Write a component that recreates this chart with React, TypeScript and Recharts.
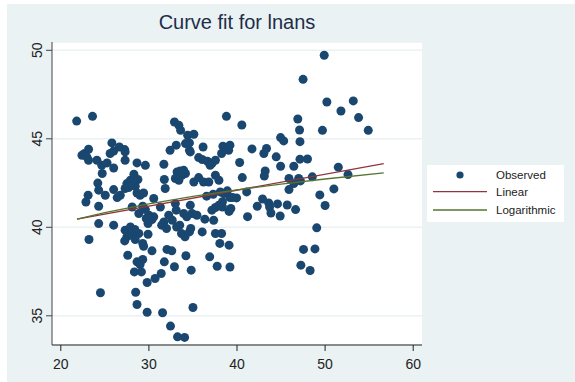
import { ScatterChart, Scatter, XAxis, YAxis, CartesianGrid, Legend } from "recharts"

const title = "Curve fit for lnans"

const seriesNames = ["Observed", "Linear", "Logarithmic"]

const xTicks = [20, 30, 40, 50, 60]
const yTicks = [35, 40, 45, 50]

// observed points (age, lnans)
const observed: [number, number][] = [
  [21.8, 46.0], [23.6, 46.27], [25.8, 44.77], [23.15, 44.41], [22.7, 44.17], [22.4, 44.07],
  [22.95, 43.98], [23.15, 43.79], [24.1, 43.79], [24.65, 43.5], [25.25, 43.64], [26.0, 43.35],
  [25.6, 44.17], [26.0, 44.31], [26.65, 44.54], [24.7, 43.04], [24.2, 42.5], [24.3, 42.1],
  [25.05, 41.81], [23.1, 41.81], [22.85, 41.43], [24.3, 41.19], [26.0, 42.13], [26.4, 41.68],
  [26.75, 41.81], [24.3, 40.21], [26.0, 40.12], [23.2, 39.31], [24.5, 36.3],
  [27.25, 44.39], [27.3, 44.26], [27.3, 43.79], [28.65, 43.64], [29.6, 43.5], [27.3, 42.19],
  [27.5, 42.47], [27.9, 42.66], [28.3, 43.0], [28.75, 42.7], [28.45, 42.32], [28.65, 41.94],
  [29.0, 41.81], [29.4, 41.94], [27.7, 42.25], [28.1, 41.15], [28.85, 40.78], [29.3, 41.19],
  [29.6, 41.0], [30.0, 40.68], [29.7, 40.5], [30.35, 40.44], [29.9, 40.21], [30.55, 41.63],
  [27.3, 39.84], [27.9, 40.02], [28.4, 39.88], [28.85, 39.65], [28.1, 39.55], [27.5, 39.46],
  [27.25, 39.23], [28.45, 39.31], [27.75, 39.74], [29.9, 39.61], [29.3, 39.09], [29.4, 38.93],
  [30.35, 38.67], [27.6, 38.42], [28.65, 38.05], [29.3, 38.18], [29.0, 37.9], [28.35, 37.48],
  [29.15, 37.48], [29.8, 36.88], [30.7, 37.11], [28.5, 36.33], [28.65, 35.64], [29.8, 35.2],
  [31.7, 43.56], [32.9, 45.95], [33.4, 45.76], [33.6, 45.48], [34.4, 45.2], [35.1, 45.26],
  [34.15, 44.73], [34.6, 44.77], [34.6, 44.35], [34.7, 44.26], [33.1, 44.64], [32.4, 44.35],
  [33.2, 43.13], [33.55, 43.18], [33.95, 43.22], [33.0, 42.76], [33.4, 42.66], [33.75, 42.94],
  [34.15, 43.04], [33.3, 42.94], [31.75, 42.7], [31.85, 42.19], [35.1, 42.56], [31.3, 41.15],
  [33.0, 41.34], [33.1, 40.97], [33.95, 40.78], [34.7, 41.25], [34.9, 40.78], [34.3, 40.59],
  [30.55, 40.59], [31.7, 40.3], [32.65, 40.4], [32.25, 40.68], [31.45, 40.12], [32.0, 39.93],
  [33.15, 40.02], [33.5, 40.12], [33.7, 39.65], [34.1, 39.46], [34.6, 39.74], [34.75, 39.93],
  [32.05, 38.75], [32.6, 38.67], [34.2, 38.39], [31.75, 38.05], [32.9, 37.77], [34.8, 37.58],
  [31.4, 37.39], [35.0, 35.47], [31.55, 35.17], [32.45, 34.42], [33.25, 33.81], [34.05, 33.78],
  [38.8, 46.27], [40.55, 45.78], [36.15, 44.54], [38.4, 44.58], [39.2, 44.64], [39.05, 44.35],
  [38.25, 44.17], [35.65, 43.94], [36.05, 43.83], [36.65, 43.73], [37.15, 43.6], [37.55, 43.79],
  [36.95, 43.5], [40.3, 43.66], [35.65, 42.81], [36.2, 42.56], [36.8, 42.56], [37.55, 42.94],
  [37.95, 42.66], [40.6, 42.81], [36.55, 41.76], [37.3, 41.87], [38.5, 41.91], [39.2, 41.68],
  [39.95, 41.66], [35.45, 40.68], [36.35, 40.46], [37.35, 40.4], [37.55, 41.12], [37.95, 41.25],
  [38.35, 41.15], [39.3, 41.06], [39.5, 41.68], [37.15, 40.97], [39.1, 40.9], [38.35, 41.45],
  [38.1, 42.0], [36.05, 39.74], [37.55, 39.65], [38.25, 39.65], [38.05, 39.09], [39.1, 38.99],
  [36.9, 38.33], [37.75, 37.8], [39.2, 37.76], [38.9, 42.06],
  [41.7, 44.43], [43.05, 44.17], [43.35, 44.45], [44.45, 43.98], [44.95, 45.07], [45.3, 44.88],
  [46.9, 46.12], [47.1, 45.5], [47.15, 44.84], [44.95, 43.45], [46.45, 43.45], [47.15, 43.85],
  [48.0, 43.86], [43.2, 43.18], [43.1, 42.9], [45.9, 42.76], [46.45, 42.47], [47.0, 42.76],
  [47.2, 42.62], [48.55, 42.85], [41.1, 42.0], [45.9, 42.13], [42.9, 41.6], [42.3, 41.19],
  [43.6, 41.38], [43.7, 41.15], [43.85, 40.81], [44.6, 41.32], [44.9, 40.64], [45.7, 41.26],
  [46.65, 41.0], [41.2, 40.6], [47.55, 38.75], [48.85, 38.78], [47.25, 37.86], [48.3, 37.56],
  [49.05, 39.97],
  [49.9, 49.72], [47.5, 48.36], [50.2, 47.08], [53.2, 47.14], [51.8, 46.57], [53.8, 46.2],
  [54.9, 45.48], [49.7, 45.48], [51.5, 43.4], [52.6, 42.98], [51.0, 42.17], [49.4, 41.83],
  [50.0, 41.23],
]

// fitted lines
const linearX = [21.84, 56.66]
const linearY = [40.46, 43.6]
const logX = [21.84, 25, 30, 35, 40, 45, 50, 56.66]
const logY = [40.46, 40.83, 41.33, 41.75, 42.12, 42.44, 42.73, 43.07]

const observedData = observed.map(([x, y]) => ({ x, y }))
const linearData = linearX.map((x, i) => ({ x, y: linearY[i] }))
const logData = logX.map((x, i) => ({ x, y: logY[i] }))

const navy = "#1a476f"
const maroon = "#90353b"
const green = "#55752f"
const bg = "#eaf2f3"
const font = "'Liberation Sans', Arial, sans-serif"

const YTick = (props: any) => {
  const { x, y, payload } = props
  const tx = x - 4
  return (
    <text x={tx} y={y} transform={`rotate(-90, ${tx}, ${y})`} textAnchor="middle"
      fontSize={14} fontFamily={font} fill="#222">
      {payload.value}
    </text>
  )
}

const LegendBox = () => (
  <div style={{ width: 137, height: 57, background: "#fff", fontFamily: font, fontSize: 11.5, color: "#222" }}>
    <svg width={137} height={57}>
      <circle cx={33} cy={10} r={3.6} fill={navy} />
      <text x={69} y={14} fontSize={11.5} fontFamily={font} fill="#222">{seriesNames[0]}</text>
      <line x1={6} x2={60} y1={26.7} y2={26.7} stroke={maroon} strokeWidth={1.3} />
      <text x={69} y={31} fontSize={11.5} fontFamily={font} fill="#222">{seriesNames[1]}</text>
      <line x1={6} x2={60} y1={45} y2={45} stroke={green} strokeWidth={1.3} />
      <text x={69} y={49} fontSize={11.5} fontFamily={font} fill="#222">{seriesNames[2]}</text>
    </svg>
  </div>
)

export default function App() {
  return (
    <div style={{ position: "absolute", left: 0, top: 0, width: 575, height: 382, background: "#fff" }}>
      <div style={{ position: "absolute", left: 7, top: 4, right: 0, bottom: 0, background: bg }} />
      <div style={{
        position: "absolute", left: 52, width: 370, top: 12, lineHeight: "20px",
        textAlign: "center", fontSize: 20, fontFamily: font, color: "#1c2e4a",
      }}>
        {title}
      </div>
      <div style={{ position: "absolute", left: 0, top: 0 }}>
        <ScatterChart width={575} height={382} margin={{ top: 42, right: 153, bottom: 7, left: 12 }}>
          <CartesianGrid vertical={false} stroke={bg} strokeWidth={1.5} fill="#fff" />
          <XAxis type="number" dataKey="x" domain={[19, 61]} ticks={xTicks} allowDataOverflow
            height={30} tickSize={6} tickMargin={7.6}
            axisLine={{ stroke: "#222" }} tickLine={{ stroke: "#222" }}
            tick={{ fontSize: 14, fontFamily: font, fill: "#222" }} />
          <YAxis type="number" dataKey="y" domain={[33.35, 50.47]} ticks={yTicks} allowDataOverflow
            width={40} tickSize={6} tickMargin={0}
            axisLine={{ stroke: "#444" }} tickLine={{ stroke: "#444" }}
            tick={<YTick />} />
          <Scatter name={seriesNames[0]} data={observedData} isAnimationActive={false}
            shape={(p: any) => <circle cx={p.cx} cy={p.cy} r={4.5} fill={navy} />} />
          <Scatter name={seriesNames[1]} data={linearData} isAnimationActive={false}
            line={{ stroke: maroon, strokeWidth: 1.3 }} lineType="joint" shape={() => <g />} />
          <Scatter name={seriesNames[2]} data={logData} isAnimationActive={false}
            line={{ stroke: green, strokeWidth: 1.3 }} lineType="joint" shape={() => <g />} />
          <Legend layout="vertical" align="center" verticalAlign="middle"
            wrapperStyle={{ position: "absolute", left: 427, top: 165, width: 137, height: 57 }}
            content={() => <LegendBox />} />
        </ScatterChart>
      </div>
    </div>
  )
}
